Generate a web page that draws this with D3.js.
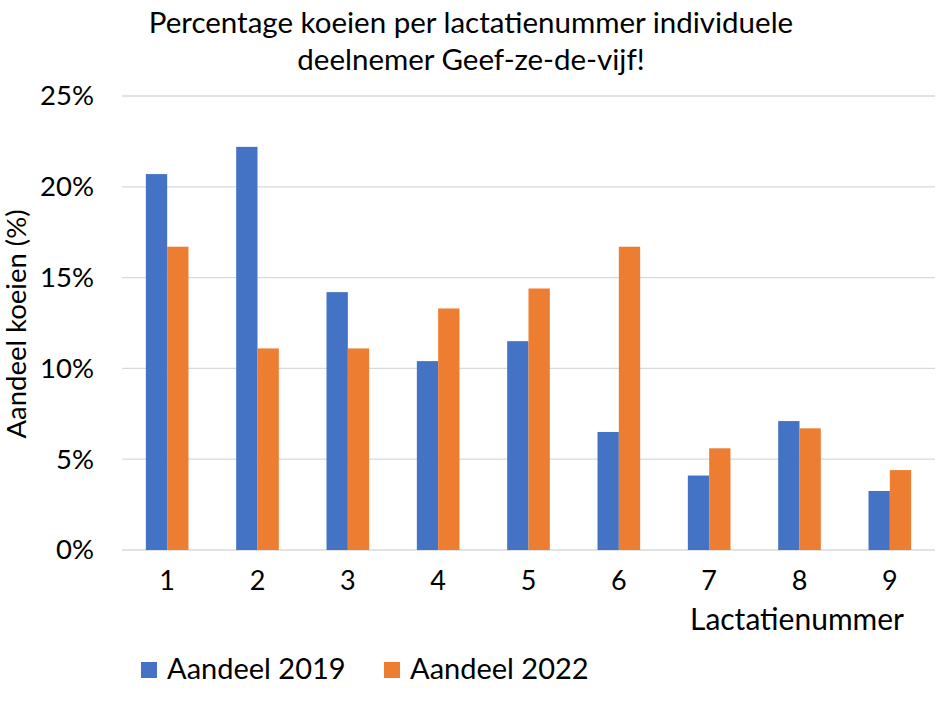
<!DOCTYPE html>
<html><head><meta charset="utf-8">
<script src="https://cdn.jsdelivr.net/npm/d3@7"></script>
<style>body{margin:0;background:#fff;} svg{display:block;} text{font-family:Lato,"Open Sans",sans-serif;fill:#000;}</style>
</head><body>
<div id="chart"></div>
<script>
const categories = ["1","2","3","4","5","6","7","8","9"];
const series2019 = [20.7, 22.2, 14.2, 10.4, 11.5, 6.5, 4.1, 7.1, 3.25];
const series2022 = [16.7, 11.1, 11.1, 13.3, 14.4, 16.7, 5.6, 6.7, 4.4];
const seriesNames = ["Aandeel 2019", "Aandeel 2022"];
const colors = ["#4472C4", "#ED7D31"];
const yTicks = [0, 5, 10, 15, 20, 25];
const titleLines = ["Percentage koeien per lactatienummer individuele", "deelnemer Geef-ze-de-vijf!"];

const W = 939, H = 702;
const m = {left: 122, right: 4, top: 96, bottom: 152};
const svg = d3.select("#chart").append("svg").attr("width", W).attr("height", H);

const x = d3.scaleBand().domain(categories).range([m.left, W - m.right]).paddingInner(0.528).paddingOuter(0.264);
const xs = d3.scaleBand().domain([0,1]).range([0, x.bandwidth()]);
const y = d3.scaleLinear().domain([0, 25]).range([H - m.bottom, m.top]);

// gridlines
svg.append("g").selectAll("line").data(yTicks).join("line")
  .attr("x1", m.left).attr("x2", W - m.right)
  .attr("y1", d => y(d)).attr("y2", d => y(d))
  .attr("stroke", "#d9d9d9").attr("stroke-width", 1.3);

// y axis labels
const yAxis = d3.axisLeft(y).tickValues(yTicks).tickFormat(d => d + "%").tickSize(0).tickPadding(0);
const gy = svg.append("g").attr("transform", `translate(94,0)`).call(yAxis);
gy.select(".domain").remove();
gy.selectAll("text").attr("font-size", 27.5).attr("font-family", "Lato, sans-serif").attr("fill", "#000");

// bars
const data = [series2019, series2022];
data.forEach((vals, si) => {
  svg.append("g").selectAll("rect").data(vals).join("rect")
    .attr("x", (d, i) => x(categories[i]) + xs(si))
    .attr("width", xs.bandwidth())
    .attr("y", d => y(d))
    .attr("height", d => y(0) - y(d))
    .attr("fill", colors[si]);
});

// x axis labels
const xAxis = d3.axisBottom(x).tickSize(0).tickPadding(0);
const gx = svg.append("g").attr("transform", `translate(0,${y(0) + 32})`).call(xAxis);
gx.select(".domain").remove();
gx.selectAll("text").attr("font-size", 27).attr("font-family", "Lato, sans-serif").attr("fill", "#000").attr("dy", "0.3em");

// x axis title
svg.append("text").attr("x", 797).attr("y", 630).attr("text-anchor", "middle").attr("font-size", 30).text("Lactatienummer");

// y axis title
svg.append("text").attr("transform", `translate(26,324) rotate(-90)`).attr("text-anchor", "middle").attr("font-size", 27.5).text("Aandeel koeien (%)");

// title
svg.selectAll(".title").data(titleLines).join("text").attr("class", "title")
  .attr("x", 471).attr("y", (d, i) => 33 + i * 37).attr("text-anchor", "middle").attr("font-size", 29.5).text(d => d);

// legend
const legX = [141, 384];
seriesNames.forEach((n, i) => {
  svg.append("rect").attr("x", legX[i]).attr("y", 662).attr("width", 16).attr("height", 16).attr("fill", colors[i]);
  svg.append("text").attr("x", legX[i] + 26).attr("y", 679).attr("font-size", 29).text(n);
});
</script>
</body></html>
